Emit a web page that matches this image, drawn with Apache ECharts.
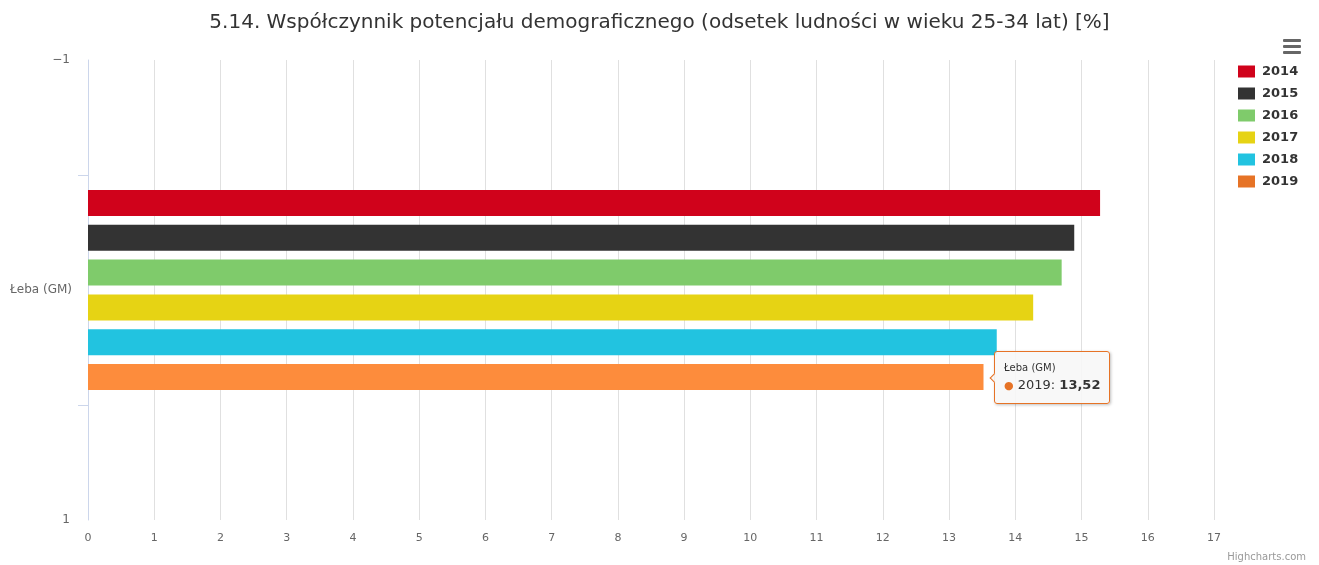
<!DOCTYPE html>
<html>
<head>
<meta charset="utf-8">
<style>
  html, body { margin: 0; padding: 0; background: #fff; }
  #chart { width: 1319px; height: 565px; }
</style>
<script src="https://cdn.jsdelivr.net/npm/echarts@6/dist/echarts.min.js"></script>
</head>
<body>
<div id="chart"></div>
<script>
// Units (gminy) on the category axis
const categories = ['Łeba (GM)'];
// Years, one bar series each
const years = ['2014', '2015', '2016', '2017', '2018', '2019'];
// Share of population aged 25-34 [%], per year, for Łeba (GM)
const values2014 = [15.28];
const values2015 = [14.89];
const values2016 = [14.70];
const values2017 = [14.27];
const values2018 = [13.72];
const values2019 = [13.52];
const seriesValues = [values2014, values2015, values2016, values2017, values2018, values2019];
// Value axis tick labels
const valueTicks = [0, 1, 2, 3, 4, 5, 6, 7, 8, 9, 10, 11, 12, 13, 14, 15, 16, 17];
// Outer category-axis end labels
const edgeLabels = { '-1': '\u22121', '1': '1' };

const palette = ['#d0021b', '#333333', '#7fcb6b', '#e6d314', '#22c3e0', '#e67326'];
const hoverColor = '#fd8c3c';
const FONT = '"DejaVu Sans", Verdana, sans-serif';

const chart = echarts.init(document.getElementById('chart'), null, { renderer: 'canvas' });

const series = years.map((year, i) => ({
  name: year,
  type: 'bar',
  xAxisIndex: 1,
  yAxisIndex: 1,
  barWidth: 26,
  barGap: '34%',
  itemStyle: { color: palette[i] },
  emphasis: { disabled: true },
  data: seriesValues[i].map(v => (i === years.length - 1
    ? { value: v, itemStyle: { color: hoverColor } }
    : v))
}));

const fmt = v => v.toFixed(2).replace('.', ',');

chart.setOption({
  animation: false,
  textStyle: { fontFamily: FONT },
  title: {
    text: '5.14. Współczynnik potencjału demograficznego (odsetek ludności w wieku 25-34 lat) [%]',
    left: 'center',
    top: 8,
    textStyle: { fontFamily: FONT, fontSize: 20, fontWeight: 'normal', color: '#333333' }
  },
  legend: {
    orient: 'vertical',
    left: 1233,
    top: 60,
    itemWidth: 17,
    itemHeight: 12,
    itemGap: 9,
    icon: 'rect',
    textStyle: { fontFamily: FONT, fontSize: 13, fontWeight: 'bold', color: '#333333', padding: [0, 0, 0, 2] },
    data: years
  },
  tooltip: {
    trigger: 'item',
    alwaysShowContent: true,
    triggerOn: 'none',
    position: 'right',
    backgroundColor: 'rgba(247,247,247,0.9)',
    borderColor: '#e67326',
    borderWidth: 1,
    padding: [8, 9],
    extraCssText: 'border-radius:3px; box-shadow:1px 1px 3px rgba(0,0,0,0.25);',
    formatter: p => '<div style="font-family:' + FONT.replace(/"/g, "'") + ';color:#333;">' +
      '<div style="font-size:10px;line-height:15px;">' + p.name + '</div>' +
      '<div style="font-size:13px;line-height:19px;"><span style="color:#e67326;font-size:11px;">\u25CF</span> ' +
      p.seriesName + ': <b>' + fmt(p.value) + '</b></div></div>'
  },
  grid: [
    { left: 88, right: 105, top: 60, bottom: 45 },
    { left: 88, right: 105, top: 175, bottom: 160 }
  ],
  xAxis: [
    {
      gridIndex: 0,
      type: 'value',
      min: valueTicks[0],
      max: valueTicks[valueTicks.length - 1],
      interval: 1,
      axisLine: { show: false },
      axisTick: { show: false },
      axisLabel: { color: '#666666', fontSize: 11, margin: 13, fontFamily: FONT },
      splitLine: { show: true, lineStyle: { color: '#e0e0e0', width: 1 } }
    },
    {
      gridIndex: 1,
      type: 'value',
      min: valueTicks[0],
      max: valueTicks[valueTicks.length - 1],
      show: false
    }
  ],
  yAxis: [
    {
      gridIndex: 0,
      type: 'value',
      min: -1,
      max: 1,
      interval: 2,
      inverse: true,
      axisLine: { show: true, lineStyle: { color: '#ccd6eb', width: 1 } },
      axisTick: { show: false },
      splitLine: { show: false },
      axisLabel: {
        color: '#666666', fontSize: 12, margin: 18, fontFamily: FONT,
        formatter: v => edgeLabels[String(v)] || ''
      }
    },
    {
      gridIndex: 1,
      type: 'category',
      data: categories,
      inverse: true,
      axisLine: { show: false },
      axisTick: { show: true, length: 10, lineStyle: { color: '#ccd6eb' } },
      axisLabel: { color: '#666666', fontSize: 12, margin: 16, fontFamily: FONT }
    }
  ],
  graphic: [
    // export menu icon
    { type: 'rect', left: 1283, top: 39, shape: { width: 18, height: 3, r: 1 }, style: { fill: '#666666' } },
    { type: 'rect', left: 1283, top: 45, shape: { width: 18, height: 3, r: 1 }, style: { fill: '#666666' } },
    { type: 'rect', left: 1283, top: 51, shape: { width: 18, height: 3, r: 1 }, style: { fill: '#666666' } },
    {
      type: 'text', right: 13, top: 552,
      style: { text: 'Highcharts.com', fill: '#999999', font: '10px ' + FONT }
    }
  ],
  series: series
});

chart.dispatchAction({ type: 'showTip', seriesIndex: years.length - 1, dataIndex: 0 });
</script>
</body>
</html>
